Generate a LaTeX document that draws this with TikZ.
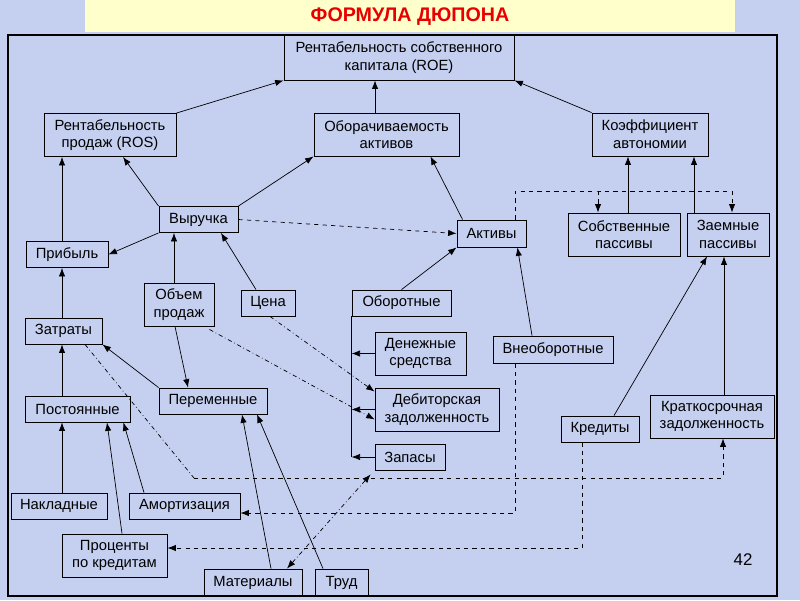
\documentclass[tikz,border=0pt]{standalone}
\usepackage{fontspec}
\setmainfont{Liberation Sans}
\usepackage{tikz}
\usetikzlibrary{positioning, calc, arrows.meta}

\definecolor{fon}{RGB}{197,208,240}
\definecolor{titelgelb}{RGB}{255,255,204}
\definecolor{titelrot}{RGB}{232,0,0}

\tikzset{
  box/.style={draw, line width=0.6pt, inner sep=1pt, align=center,
    font=\fontsize{10.5}{12.5}\selectfont},
  zweizeilig/.style={box, minimum height=1.075cm},
  einzeilig/.style={box, minimum height=0.65cm}
}

\begin{document}
\begin{tikzpicture}[x=0.025cm, y=-0.025cm, >={Latex[length=6pt,width=4.5pt]}, line width=0.5pt]
                \fill[fon] (0,0) rectangle (800,600);
                \useasboundingbox (0,0) rectangle (800,600);
                \fill[titelgelb] (85,0) rectangle (735,32);
                \node[font=\bfseries\fontsize{14}{16}\selectfont, text=titelrot] (titel) at (410,17) {ФОРМУЛА ДЮПОНА};
                \draw[line width=2pt] (8,35) rectangle (777,596);

                % obere Ebene
                \node[box, minimum width=5.75cm, minimum height=1.125cm] (roe) at (399,57.5) {Рентабельность собственного\\капитала (ROE)};
                \node[zweizeilig, minimum width=3.3cm] (ros) at (110,135) {Рентабельность\\продаж (ROS)};
                \node[zweizeilig, minimum width=3.625cm] (obor) at (386.5,134.5) {Оборачиваемость\\активов};
                \node[zweizeilig, minimum width=2.9cm] (koef) at (650,134.5) {Коэффициент\\автономии};

                % mittlere Ebene
                \node[einzeilig, minimum width=1.975cm] (vyr) at (198.5,219.5) {Выручка};
                \node[einzeilig, minimum width=2.05cm] (prib) at (67,254.5) {Прибыль};
                \node[einzeilig, minimum width=1.725cm, minimum height=0.675cm] (akt) at (491.5,233.5) {Активы};
                \node[zweizeilig, minimum width=2.8cm] (sobst) at (624,234.5) {Собственные\\пассивы};
                \node[zweizeilig, minimum width=2.05cm] (zaem) at (728,234.5) {Заемные\\пассивы};
                \node[zweizeilig, minimum width=1.75cm] (obem) at (179,304.5) {Объем\\продаж};
                \node[einzeilig, minimum width=1.35cm] (cena) at (268,303) {Цена};
                \node[einzeilig, minimum width=2.475cm] (obrt) at (401.5,303) {Оборотные};
                \node[einzeilig, minimum width=1.925cm] (zatr) at (63.5,331) {Затраты};
                \node[zweizeilig, minimum width=2.275cm] (den) at (420.5,353.5) {Денежные\\средства};
                \node[einzeilig, minimum width=3cm, minimum height=0.675cm] (vneob) at (553,349.5) {Внеоборотные};
                \node[einzeilig, minimum width=2.7cm] (perem) at (213,401) {Переменные};
                \node[einzeilig, minimum width=2.625cm] (post) at (77.5,409) {Постоянные};
                \node[zweizeilig, minimum width=3.1cm] (deb) at (437,409.5) {Дебиторская\\задолженность};
                \node[einzeilig, minimum width=1.95cm] (kred) at (600,429) {Кредиты};
                \node[zweizeilig, minimum width=3.1cm] (kratk) at (712,416.5) {Краткосрочная\\задолженность};
                \node[einzeilig, minimum width=1.75cm] (zap) at (410,457) {Запасы};

                % untere Ebene
                \node[einzeilig, minimum width=2.4cm] (nakl) at (59,506) {Накладные};
                \node[einzeilig, minimum width=2.775cm] (amort) at (184.5,506) {Амортизация};
                \node[zweizeilig, minimum width=2.625cm] (proc) at (114.5,555.5) {Проценты\\по кредитам};
                \node[einzeilig, minimum width=2.45cm, minimum height=0.675cm] (mat) at (253,582.5) {Материалы};
                \node[einzeilig, minimum width=1.325cm, minimum height=0.675cm] (trud) at (341.5,582.5) {Труд};
                \node[font=\fontsize{12}{14}\selectfont] (seite) at (743,560) {42};

                \coordinate (colL) at (62,0);
                \coordinate (colV) at (174,0);
                \coordinate (colS) at (628,0);
                \coordinate (colZ) at (694,0);
                \coordinate (colK) at (724,0);
                \coordinate (bus) at (598,191);
                \coordinate (knick) at (194,478);

                % durchgezogene Pfeile
                \draw[->] (ros.north east) -- (roe.south west);
                \draw[->] ($(obor.north)+(-11.5,0)$) -- ($(roe.south)+(-24,0)$);
                \draw[->] (koef.north west) -- (roe.south east);
                \draw[->] (vyr.north west) -- ($(ros.south)+(13,0)$);
                \draw[->] (vyr.north east) -- (obor.south west);
                \draw[->] (vyr.south west) -- (prib.east);
                \draw[->] (prib.north -| colL) -- (ros.south -| colL);
                \draw[->] (obem.north -| colV) -- (vyr.south -| colV);
                \draw[->] ($(cena.north)+(-12,0)$) -- ($(vyr.south)+(22.5,0)$);
                \draw[->] ($(akt.north west)+(6,0)$) -- ($(obor.south east)+(-29,0)$);
                \draw[->] (obrt.north) -- (akt.south west);
                \draw[->] ($(vneob.north)+(-21,0)$) -- ($(akt.south east)+(-9,0)$);
                \draw[->] (sobst.north -| colS) -- (koef.south -| colS);
                \draw[->] (zaem.north -| colZ) -- (koef.south -| colZ);
                \draw[->] ($(kred.north)+(14,0)$) -- ($(zaem.south)+(-21,0)$);
                \draw[->] (kratk.north -| colK) -- (zaem.south -| colK);

                \draw (obrt.south west) -- (obrt.south west |- zap.west);
                \draw[->] (den.west) -- (den.west -| obrt.south west);
                \draw[->] (deb.west) -- (deb.west -| obrt.south west);
                \draw[->] (zap.west) -- (zap.west -| obrt.south west);

                \draw[->] (zatr.north -| colL) -- (prib.south -| colL);
                \draw[->] (post.north -| colL) -- (zatr.south -| colL);
                \draw[->] (nakl.north -| colL) -- (post.south -| colL);
                \draw[->] (perem.north west) -- (zatr.south east);
                \draw[->] ($(obem.south)+(-4,0)$) -- ($(perem.north)+(-25,0)$);
                \draw[->] ($(amort.north)+(-40.5,0)$) -- ($(post.south east)+(-7,0)$);
                \draw[->] ($(proc.north)+(7.5,0)$) -- ($(post.south)+(29.5,0)$);
                \draw[->] ($(mat.north)+(18,0)$) -- ($(perem.south)+(29,0)$);
                \draw[->] ($(trud.north)+(-18.5,0)$) -- ($(perem.south)+(44,0)$);

                % gestrichelt
                \draw[->, dashed] (vyr.east) -- (akt.west);
                \draw[->, dashed] ($(akt.north east)+(-11,0)$) |- (bus) -| ($(zaem.north)+(4,0)$);
                \draw[->, dashed] (bus) -- (sobst.north -| bus);
                \draw[->, dashed] ($(vneob.south)+(-38,0)$) |- ($(amort.east)+(0,7)$);
                \draw[->, dashed] ($(kred.south)+(-18,0)$) |- ($(proc.east)+(0,-7.5)$);
                \draw[dashdotted] ($(zatr.south)+(21.5,0)$) -- (knick);
                \draw[->, dashed] (knick) -| ($(kratk.south)+(11,0)$);

                % strichpunktiert
                \draw[->, dashdotted] ($(obem.south east)+(-5,3)$) -- ($(deb.south west)+(0,-12)$);
                \draw[->, dashdotted] ($(cena.south)+(2,0)$) -- ($(deb.north west)+(0,4)$);
                \draw[<->, dashdotted] ($(mat.north)+(34,0)$) -- ($(zap.south west)+(-4,4)$);
            \end{tikzpicture}
\end{document}
